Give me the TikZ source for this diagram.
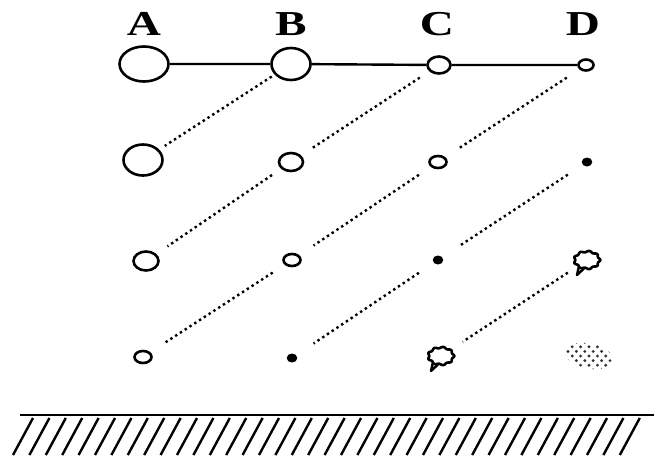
\documentclass[tikz,border=0pt]{standalone}
\usepackage{fontspec}
\setmainfont{Liberation Serif}
\usetikzlibrary{shapes.geometric}
\begin{document}
\begin{tikzpicture}[x=1pt,y=-1pt,
  ball/.style={draw, ellipse, line width=2.6pt, inner sep=0pt},
  dotn/.style={ellipse, fill, inner sep=0pt, minimum width=10.5pt, minimum height=9pt},
  spot/.style={inner sep=0pt, minimum size=2pt},
  lbl/.style={font=\fontsize{35}{40}\selectfont\bfseries, xscale=1.35, anchor=base, inner sep=0pt},
  trail/.style={line width=2.4pt, dash pattern=on 2.4pt off 3.3pt, shorten <=23pt, shorten >=26pt},
  rod/.style={line width=2.4pt},
  cloudpic/.pic={
    \draw[line width=2.6pt, line join=round] plot[smooth cycle, domain=0:354, samples=60, variable=\t]
      ({12.5*(1+0.07*cos(9*\t))*cos(\t)}, {8.5*(1+0.09*cos(9*\t))*sin(\t)});
    \draw[line width=2.4pt, line join=round] (-8,6) -- (-10,15) -- (-3,8.5);
  }]
\useasboundingbox (0,0) rectangle (654,459);
% labels
\node[lbl] (la) at (144,35) {A};
\node[lbl] (lb) at (291,35) {B};
\node[lbl] (lc) at (437,35) {C};
\node[lbl] (ld) at (583,35) {D};
% row 1
\node[ball, minimum width=49pt, minimum height=35pt] (a1) at (144,64) {};
\node[ball, minimum width=39pt, minimum height=32pt] (b1) at (291,64) {};
\node[ball, minimum width=23pt, minimum height=17pt] (c1) at (439,65) {};
\node[ball, minimum width=15pt, minimum height=11pt] (d1) at (586,65) {};
% row 2
\node[ball, minimum width=39pt, minimum height=31pt] (a2) at (143,160) {};
\node[ball, minimum width=24pt, minimum height=18pt] (b2) at (291,162) {};
\node[ball, minimum width=17pt, minimum height=12pt] (c2) at (438,162) {};
\node[dotn] (d2) at (587,162) {};
% row 3
\node[ball, minimum width=25pt, minimum height=19pt] (a3) at (146,261) {};
\node[ball, minimum width=17pt, minimum height=12pt] (b3) at (292,260) {};
\node[dotn] (c3) at (438,260) {};
\node[spot] (d3) at (587,260) {};
% row 4
\node[ball, minimum width=17pt, minimum height=12pt] (a4) at (143,357) {};
\node[dotn] (b4) at (292,358) {};
\node[spot] (c4) at (441,356) {};
\node[spot] (d4) at (589,356) {};
% clouds
\pic at (d3.center) {cloudpic};
\pic at (c4.center) {cloudpic};
% dotted patch
\begin{scope}[shift={(d4.center)}]
  \clip[rotate=-12] (0,0) ellipse (25 and 12.5);
  \foreach \r in {-3,...,3}
    \foreach \c in {-6,...,6}
      \fill[black!80] ({\c*8.4+\r*4.2}, {\r*4.6}) circle (1.6);
\end{scope}
% rod
\draw[rod] (a1) -- (b1) -- (c1) -- (d1);
% trails
\draw[trail] (b1.center) -- (a2.center);
\draw[trail] (c1.center) -- (b2.center);
\draw[trail] (d1.center) -- (c2.center);
\draw[trail] (b2.center) -- (a3.center);
\draw[trail] (c2.center) -- (b3.center);
\draw[trail] (d2.center) -- (c3.center);
\draw[trail] (b3.center) -- (a4.center);
\draw[trail] (c3.center) -- (b4.center);
\draw[trail] (d3.center) -- (c4.center);
% ground
\draw[line width=2.6pt] (20,415) -- (654,415);
\foreach \i in {0,...,37}
  \draw[line width=2.4pt] ({13+16.4*\i},455) -- ({33+16.4*\i},418);
\end{tikzpicture}
\end{document}
